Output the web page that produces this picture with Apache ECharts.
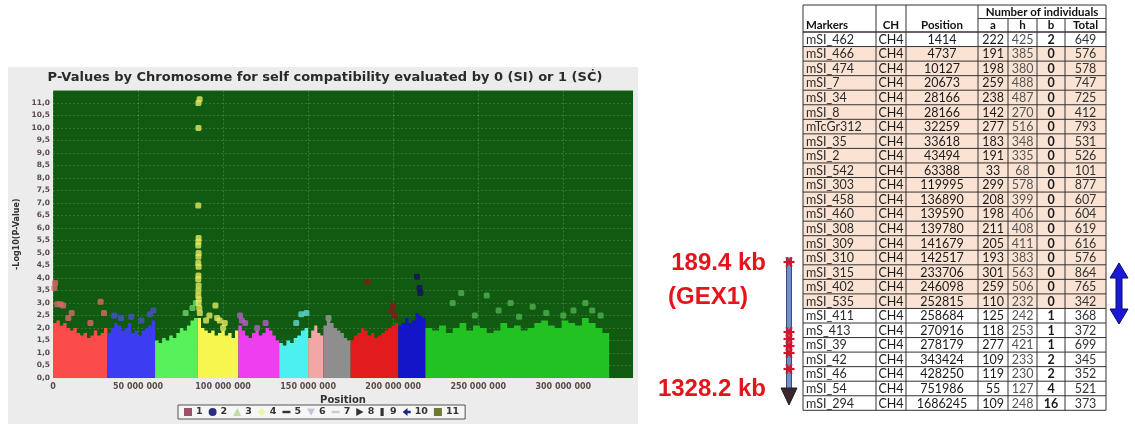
<!DOCTYPE html>
<html><head><meta charset="utf-8">
<script src="https://cdn.jsdelivr.net/npm/echarts/dist/echarts.min.js"></script>
<style>html,body{margin:0;padding:0;background:#fff}#c{width:1135px;height:424px}</style>
</head><body><div id="c"></div>
<script>
// ---------------- Manhattan plot data (positions in Mb) ----------------
const chrNames = ['1','2','3','4','5','6','7','8','9','10','11'];
const chrStartMb = [0, 32, 60, 85, 109, 133, 150, 159, 175, 203, 219];
const chrEndMb   = [32, 60, 85, 109, 133, 150, 159, 175, 203, 219, 327];
const chr1Heights = [2.2,2.3,2.1,2.2,2.0,1.9,2.0,1.8,1.7,1.8,1.6,1.7,1.9,1.7,1.8,2.0];
const chr2Heights = [1.8,2.0,2.2,2.1,1.9,2.0,2.2,1.8,1.9,1.7,1.9,2.0,2.1,2.3];
const chr3Heights = [1.5,1.4,1.6,1.5,1.7,1.6,1.8,2.0,1.9,2.1,2.3,2.4];
const chr4Heights = [2.4,2.0,1.9,1.8,1.9,1.7,1.8,1.9,1.7,1.8,1.6,1.9];
const chr5Heights = [2.1,1.9,1.7,1.6,1.8,1.9,1.7,1.8,2.0,1.9,1.7,1.5];
const chr6Heights = [1.4,1.3,1.5,1.4,1.6,1.7,1.9,2.0];
const chr7Heights = [1.6,1.9,2.1,1.8,1.7];
const chr8Heights = [2.1,2.3,2.2,2.0,1.9,1.8,1.6,1.5];
const chr9Heights = [1.5,1.7,1.8,2.0,1.9,1.7,1.8,1.6,1.7,1.8,1.9,2.0,2.1,2.2];
const chr10Heights = [2.1,2.2,2.4,2.2,2.3,2.6,2.5,2.4];
const chr11Heights = [2.0,1.9,2.1,1.8,2.0,2.2,1.9,2.1,2.0,1.8,1.9,2.2,2.0,2.1,1.9,2.0,2.2,2.3,2.1,2.0,2.3,2.2,2.1,2.4,2.2,2.0,1.8];

const chr1Points = [[0.8,3.6],[1.2,3.8],[2.5,2.95],[4.5,2.95],[6,2.9],[9,2.4],[11,2.6],[22,2.2],[28,3.05],[30,2.6]];
const chr2Points = [[36,2.5],[40,2.4],[46,2.45],[52,2.3],[57,2.55],[59,2.7]];
const chr3Points = [[78,2.6],[82,2.8],[84,3.0]];
const chr4Points = [[85.5,11.0],[86.2,11.15],[85.5,10.0],[85.4,6.9],[85.6,5.6],[85.5,5.45],[85.4,5.3],[85.6,5.0],[85.5,4.85],[85.4,4.6],[85.6,4.45],[85.5,4.1],[85.4,3.95],[85.6,3.7],[85.5,3.5],[85.4,3.3],[85.7,3.15],[85.6,3.0],[86,2.8],[86.3,2.6],[90,2.3],[92,2.5],[95.5,2.9],[96.5,2.4],[98,2.3],[100,2.0],[101,2.2]];
const chr5Points = [[110,2.5],[111,2.3],[113,2.2],[120,2.0],[125,2.2]];
const chr6Points = [[143,2.2],[146,2.55],[149,2.6]];
const chr7Points = [];
const chr8Points = [[162,2.4]];
const chr9Points = [[185,3.85],[199,2.7],[200,2.9],[201,2.5]];
const chr10Points = [[214,4.05],[215.5,3.6],[216,3.4]];
const chr11Points = [[235,3.0],[240,3.4],[248,2.5],[255,3.3],[262,2.7],[269,3.0],[274,2.45],[282,2.85],[290,2.6],[300,2.5],[306,2.7],[313,3.0],[317,2.7],[322,2.5]];

const yTicks = {min: 0, max: 11.5, step: 0.5};
const xTicks = {min: 0, max: 341e6, step: 50e6};

// ---------------- Table data ----------------
const tableMarkers = ['mSI_462','mSI_466','mSI_474','mSI_7','mSI_34','mSI_8','mTcGr312','mSI_35','mSI_2','mSI_542','mSI_303','mSI_458','mSI_460','mSI_308','mSI_309','mSI_310','mSI_315','mSI_402','mSI_535','mSI_411','mS_413','mSI_39','mSI_42','mSI_46','mSI_54','mSI_294'];
const tableCH = Array(26).fill('CH4');
const tablePosition = [1414,4737,10127,20673,28166,28166,32259,33618,43494,63388,119995,136890,139590,139780,141679,142517,233706,246098,252815,258684,270916,278179,343424,428250,751986,1686245];
const tableA = [222,191,198,259,238,142,277,183,191,33,299,208,198,211,205,193,301,259,110,125,118,277,109,119,55,109];
const tableH = [425,385,380,488,487,270,516,348,335,68,578,399,406,408,411,383,563,506,232,242,253,421,233,230,127,248];
const tableB = [2,0,0,0,0,0,0,0,0,0,0,0,0,0,0,0,0,0,0,1,1,1,2,2,4,16];
const tableTotal = [649,576,578,747,725,412,793,531,526,101,877,607,604,619,616,576,864,765,342,368,372,699,345,352,521,373];
const shadedRows = [1,2,3,4,5,6,7,8,9,10,11,12,13,14,15,16,17,18];

// ---------------- styles ----------------
const fillColors = ['#fb4b4b','#3c3cf2','#58f058','#f6f64e','#ee3eee','#4cf0f0','#f2a6a6','#8e8e8e','#e21c1c','#1414c8','#22c222'];
const pointColors = ['#d86a6a','#4a50c8','#6ad86a','#e4e860','#b060c0','#60d8d8','#e0a0a0','#9a9a9a','#8a1818','#101060','#4fb04f'];
const legendColors = ['#9a5068','#2b2b80','#bfdca8','#f2f2a8','#333333','#c8c2d8','#cccccc','#333333','#333333','#22227a','#6d7a35'];
const legendIcons = ['rect','circle','triangle','diamond','path://M0,3L10,3L10,6L0,6Z','path://M0,0L10,0L5,9Z','path://M0,3L10,3L10,6L0,6Z','path://M0,0L9,5L0,10Z','path://M3,0L7,0L7,10L3,10Z','path://M0,5L6,0L6,3.5L10,3.5L10,6.5L6,6.5L6,10Z','rect'];

const chrHeights = [chr1Heights,chr2Heights,chr3Heights,chr4Heights,chr5Heights,chr6Heights,chr7Heights,chr8Heights,chr9Heights,chr10Heights,chr11Heights];
const chrPoints = [chr1Points,chr2Points,chr3Points,chr4Points,chr5Points,chr6Points,chr7Points,chr8Points,chr9Points,chr10Points,chr11Points];

function binData(i){
  const s = chrStartMb[i], e = chrEndMb[i], h = chrHeights[i], w = (e - s) / h.length;
  const d = h.map((v, k) => [(s + k * w) * 1e6, v]);
  d.push([e * 1e6, h[h.length - 1]]);
  return d;
}

const series = [];
chrNames.forEach((n, i) => {
  series.push({type:'line', name:n, data:binData(i), step:'end', symbol:'none', silent:true,
    lineStyle:{width:0}, itemStyle:{color:fillColors[i]}, areaStyle:{color:fillColors[i], opacity:1}, z:2});
});
chrNames.forEach((n, i) => {
  series.push({type:'scatter', name:n, data:chrPoints[i].map(p => [p[0]*1e6, p[1]]), symbol:'roundRect', symbolSize:6, silent:true,
    itemStyle:{color:pointColors[i]}, z:3});
});

// ---------------- graphics (panel, title, table, annotations) ----------------
const G = [];
G.push({type:'rect', z:-10, silent:true, shape:{x:8, y:67, width:630, height:357}, style:{fill:'#ececec'}});
G.push({type:'text', silent:true, style:{text:'P-Values by Chromosome for self compatibility evaluated by 0 (SI) or 1 (SĊ)', x:325, y:78, textAlign:'center', textVerticalAlign:'middle', fill:'#2a2a2a', font:'bold 13px "DejaVu Sans"'}});

const colX = [803, 876, 906, 978, 1008, 1037, 1065, 1106];
const tTop = 5, hMid = 18.5, hBot = 32, rowH = 14.55;
const nRows = tableMarkers.length;
const tBot = hBot + nRows * rowH;
const lineStroke = '#333';
shadedRows.forEach(r => {
  G.push({type:'rect', silent:true, shape:{x:colX[0], y:hBot + r*rowH, width:colX[7]-colX[0], height:rowH}, style:{fill:'#fbe3d3'}});
});
G.push({type:'line', silent:true, shape:{x1:colX[0], y1:tTop, x2:colX[7], y2:tTop}, style:{stroke:lineStroke, lineWidth:1}});
G.push({type:'line', silent:true, shape:{x1:colX[3], y1:hMid, x2:colX[7], y2:hMid}, style:{stroke:lineStroke, lineWidth:1}});
for (let r = 0; r <= nRows; r++) {
  const y = hBot + r * rowH;
  G.push({type:'line', silent:true, shape:{x1:colX[0], y1:y, x2:colX[7], y2:y}, style:{stroke:lineStroke, lineWidth:(r===0?1.5:1)}});
}
colX.forEach((x, k) => {
  const y1 = (k >= 4 && k <= 6) ? hMid : tTop;
  G.push({type:'line', silent:true, shape:{x1:x, y1:y1, x2:x, y2:tBot}, style:{stroke:lineStroke, lineWidth:1}});
});
const hdrFont = 'bold 11.5px Lato';
const cellFont = '12.5px Lato';
G.push({type:'text', silent:true, style:{text:'Number of individuals', x:(colX[3]+colX[7])/2, y:(tTop+hMid)/2+0.5, textAlign:'center', textVerticalAlign:'middle', fill:'#111', font:'bold 11.5px Lato'}});
const hdrs = ['Markers','CH','Position','a','h','b','Total'];
hdrs.forEach((t, k) => {
  const left = k === 0;
  G.push({type:'text', silent:true, style:{text:t, x: left ? colX[0]+3 : (colX[k]+colX[k+1])/2, y:(hMid+hBot)/2+0.5, textAlign: left?'left':'center', textVerticalAlign:'middle', fill:'#111', font:hdrFont}});
});
for (let r = 0; r < nRows; r++) {
  const yc = hBot + (r + 0.5) * rowH + 0.5;
  const vals = [tableMarkers[r], tableCH[r], String(tablePosition[r]), String(tableA[r]), String(tableH[r]), String(tableB[r]), String(tableTotal[r])];
  const cols = ['#2a2a2a','#1a1a1a','#1a1a1a','#1a1a1a','#555','#1a1a1a','#333'];
  vals.forEach((t, k) => {
    const left = k === 0;
    G.push({type:'text', silent:true, style:{text:t, x: left ? colX[0]+3 : (colX[k]+colX[k+1])/2, y:yc, textAlign: left?'left':'center', textVerticalAlign:'middle', fill:cols[k], font:(k===5?'bold 12.5px Lato':cellFont)}});
  });
}

// annotations
const red = '#e3141b';
G.push({type:'text', silent:true, style:{text:'189.4 kb', x:766, y:263, textAlign:'right', textVerticalAlign:'middle', fill:red, font:'bold 24px "Liberation Sans"'}});
G.push({type:'text', silent:true, style:{text:'(GEX1)', x:668, y:297, textAlign:'left', textVerticalAlign:'middle', fill:red, font:'bold 24px "Liberation Sans"'}});
G.push({type:'text', silent:true, style:{text:'1328.2 kb', x:766, y:389, textAlign:'right', textVerticalAlign:'middle', fill:red, font:'bold 24px "Liberation Sans"'}});
G.push({type:'rect', silent:true, shape:{x:786.5, y:258, width:5, height:134}, style:{fill:'#6d90cc', stroke:'#3c4c70', lineWidth:1}});
G.push({type:'polygon', silent:true, shape:{points:[[781,388],[797,388],[789,405]]}, style:{fill:'#3a2630', stroke:'#2a1a20', lineWidth:1}});
[262, 332, 339, 346, 353, 369].forEach(y => {
  [0, 60, 120].forEach(a => {
    const rad = a * Math.PI / 180, L = 5.5;
    G.push({type:'line', silent:true, shape:{x1:789 - L*Math.cos(rad), y1:y - L*Math.sin(rad), x2:789 + L*Math.cos(rad), y2:y + L*Math.sin(rad)}, style:{stroke:'#d8142a', lineWidth:2.2}});
  });
});
G.push({type:'polygon', silent:true, shape:{points:[[1119,263],[1128,278],[1122,278],[1122,309],[1128,309],[1119,324],[1110,309],[1116,309],[1116,278],[1110,278]]}, style:{fill:'#1a1ad6', stroke:'#0a0a60', lineWidth:1}});

const fmtX = v => String(Math.round(v)).replace(/\B(?=(\d{3})+(?!\d))/g, ' ');
const fmtY = v => v.toFixed(1).replace('.', ',');

const option = {
  animation: false,
  textStyle: {fontFamily: '"DejaVu Sans"'},
  grid: {left: 53, right: 1135 - 633, top: 90.5, bottom: 46, show: true, backgroundColor: '#115a11', borderWidth: 0},
  xAxis: {type:'value', min:xTicks.min, max:xTicks.max, interval:xTicks.step,
    name:'Position', nameLocation:'middle', nameGap:15, nameTextStyle:{fontSize:10, fontWeight:'bold', color:'#333'},
    axisLine:{show:false}, axisTick:{show:false},
    axisLabel:{formatter:fmtX, fontSize:8, fontWeight:'bold', color:'#5a4a4a', margin:5, showMaxLabel:false},
    splitLine:{show:true, lineStyle:{color:'rgba(170,210,170,0.3)', width:1, type:[2,2]}}},
  yAxis: {type:'value', min:yTicks.min, max:yTicks.max, interval:yTicks.step,
    name:'-Log10(P-Value)', nameLocation:'middle', nameGap:31, nameRotate:90, nameTextStyle:{fontSize:8, fontWeight:'bold', color:'#333'},
    axisLine:{show:false}, axisTick:{show:false},
    axisLabel:{formatter:fmtY, fontSize:7.5, fontWeight:'bold', color:'#5a4a4a', margin:3, showMaxLabel:false},
    splitLine:{show:true, lineStyle:{color:'rgba(170,210,170,0.22)', width:1, type:[2,2]}}},
  legend: {left:178, top:405, padding:[2,6,2,6], borderColor:'#555', borderWidth:1, backgroundColor:'#f6f6f6',
    itemGap:6, itemWidth:8, itemHeight:8, selectedMode:false,
    textStyle:{fontSize:9.5, fontWeight:'bold', color:'#333', padding:[0,0,0,-1]},
    data: chrNames.map((n, i) => ({name:n, icon:legendIcons[i], itemStyle:{color:legendColors[i]}}))},
  series: series,
  graphic: {elements: G}
};
const chart = echarts.init(document.getElementById('c'), null, {renderer:'canvas'});
chart.setOption(option);
</script></body></html>
